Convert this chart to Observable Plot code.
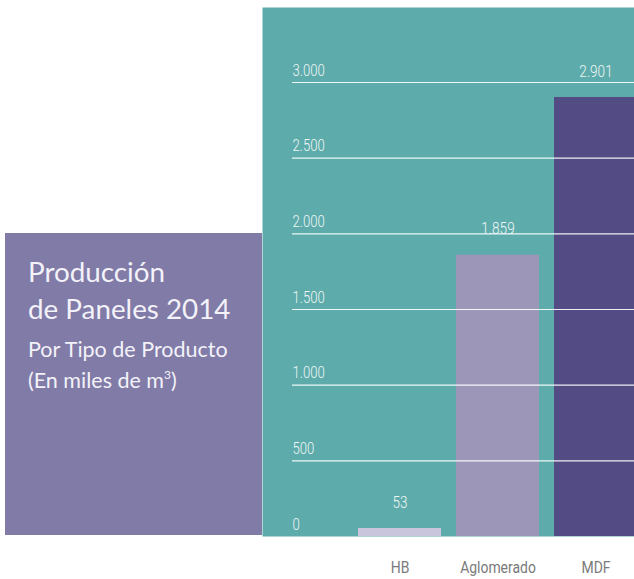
<!DOCTYPE html>
<html>
<head>
<meta charset="utf-8">
<script src="https://cdn.jsdelivr.net/npm/d3@7"></script>
<script src="https://cdn.jsdelivr.net/npm/@observablehq/plot@0.6"></script>
<style>
  html, body { margin: 0; padding: 0; background: #ffffff; }
  #wrap { position: relative; width: 634px; height: 579px; overflow: hidden; }
  #box { position: absolute; left: 5px; top: 233px; width: 257px; height: 302px; background: #817ba8; }
  .t { position: absolute; left: 23px; color: #f3f2f8; font-family: Lato, "Noto Sans", sans-serif; white-space: nowrap; line-height: 1; }
  #chart { position: absolute; left: 0; top: 0; }
</style>
</head>
<body>
<div id="wrap">
  <div id="box">
    <div class="t" style="top:25px;font-size:27.8px;">Producción</div>
    <div class="t" style="top:62px;font-size:27.8px;">de Paneles 2014</div>
    <div class="t" style="top:106px;font-size:21.5px;">Por Tipo de Producto</div>
    <div class="t" style="top:137px;font-size:21.5px;">(En miles de m<sup style="font-size:12px;vertical-align:9px;line-height:0;">3</sup>)</div>
  </div>
  <div id="chart"></div>
</div>
<script>
const categories = ["HB", "Aglomerado", "MDF"];
const values = [53, 1859, 2901];
const tickValues = [0, 500, 1000, 1500, 2000, 2500, 3000];
const tickLabels = ["0", "500", "1.000", "1.500", "2.000", "2.500", "3.000"];
const barColors = ["#c8c5dd", "#9c97b9", "#534c84"];

const data = categories.map((c, i) => ({cat: c, value: values[i]}));
const ticks = tickValues.map((v, i) => ({v, label: tickLabels[i]}));
const fmt = d3.formatLocale({decimal: ",", thousands: ".", grouping: [3], currency: ["", ""]}).format(",");
const numFont = "Roboto, 'DejaVu Sans Condensed', sans-serif";

const chart = Plot.plot({
  width: 634,
  height: 579,
  marginLeft: 262,
  marginRight: 0,
  marginTop: 7,
  marginBottom: 43,
  style: {background: "transparent", fontFamily: numFont, fontWeight: 300, overflow: "visible"},
  x: {domain: categories, range: [357, 639.15], paddingInner: 0.15, paddingOuter: 0, label: null},
  y: {domain: [0, 3000], range: [536, 82], axis: null},
  color: {domain: categories, range: barColors},
  marks: [
    Plot.frame({fill: "#5eabab", stroke: null}),
    Plot.barY(data, {x: "cat", y: "value", fill: "cat"}),
    Plot.ruleY(ticks.filter(d => d.v > 0), {y: "v", stroke: "#ffffff", strokeOpacity: 0.9, strokeWidth: 1.2, insetLeft: 30}),
    Plot.text(ticks, {y: "v", text: "label", frameAnchor: "left", dx: 30, textAnchor: "start", lineAnchor: "bottom", dy: -7, fill: "#eef7f6", fontSize: 16}),
    Plot.text(data, {x: "cat", y: "value", text: d => fmt(d.value), lineAnchor: "middle", dy: -26, fill: "#eef7f6", fontSize: 16.5}),
    Plot.axisX({tickSize: 0, tickPadding: 24, fontSize: 17, fontWeight: 400, color: "#7a7a7a", label: null})
  ]
});
document.getElementById("chart").appendChild(chart);
// condense the numeric/axis lettering horizontally (narrow typeface look)
d3.select(chart).selectAll("text").each(function() {
  const len = this.getComputedTextLength();
  if (len > 0) {
    this.setAttribute("textLength", (len * 0.82).toFixed(2));
    this.setAttribute("lengthAdjust", "spacingAndGlyphs");
  }
});
</script>
</body>
</html>
